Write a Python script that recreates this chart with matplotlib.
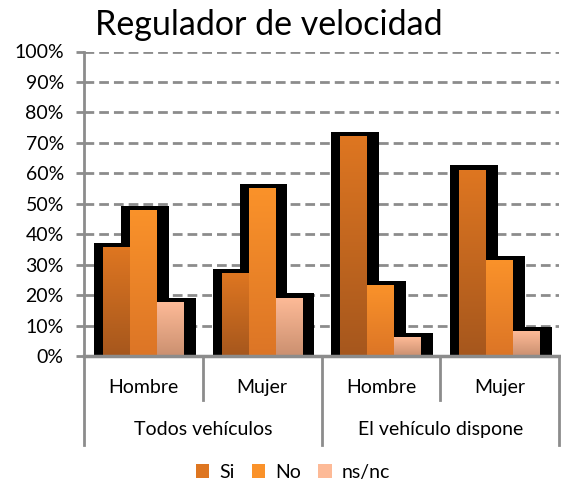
import numpy as np
import matplotlib
matplotlib.use('Agg')
import matplotlib.pyplot as plt
from matplotlib.colors import LinearSegmentedColormap
from matplotlib.patches import Patch
import matplotlib.transforms as mtransforms

plt.rcParams['font.family'] = ['Lato', 'DejaVu Sans']

# Data
groups = ['Todos vehículos', 'El vehículo dispone']
sexes = ['Hombre', 'Mujer', 'Hombre', 'Mujer']
series = ['Si', 'No', 'ns/nc']
si = [35.6, 27, 72, 61]
no = [47.7, 55, 23, 31.3]
nsnc = [17.5, 19, 6, 8]
yticks = [0, 10, 20, 30, 40, 50, 60, 70, 80, 90, 100]

# colours (top, bottom) per series
colors = [('#DE7621', '#A6571D'),
          ('#FA922A', '#DC7526'),
          ('#FDBA97', '#CB9070')]

fig = plt.figure(figsize=(5.61, 4.83), dpi=100)
ax = fig.add_axes([84 / 561, (483 - 356) / 483, 475 / 561, 304.5 / 483])

values = [si, no, nsnc]
w = 0.227
x = np.arange(len(sexes))

# shadows
for i, vals in enumerate(values):
    for j, v in enumerate(vals):
        x0 = x[j] + (i - 1.5) * w
        ax.bar(x0 - 0.076, v + 1.6, width=w + 0.176, align='edge',
               color='black', zorder=2, linewidth=0)

# gradient bars
for i, vals in enumerate(values):
    cmap = LinearSegmentedColormap.from_list('c%d' % i, [colors[i][1], colors[i][0]])
    grad = np.linspace(0, 1, 100).reshape(-1, 1)
    for j, v in enumerate(vals):
        x0 = x[j] + (i - 1.5) * w
        ax.imshow(grad, extent=[x0, x0 + w, 0, v], origin='lower', cmap=cmap,
                  aspect='auto', zorder=3, interpolation='bilinear')
ax.set_xlim(-0.5, len(sexes) - 0.5)
ax.set_ylim(0, 100)

# grid
for t in yticks[1:]:
    ax.axhline(t, color='#8C8C8C', lw=2, ls=(0, (3.5, 1.8)), zorder=1)

ax.set_yticks(yticks)
ax.set_yticklabels(['%d%%' % t for t in yticks], fontsize=14)
ax.tick_params(axis='y', direction='out', length=5.5, width=2, color='#8C8C8C', pad=9)
ax.set_xticks([])
for s in ['top', 'right']:
    ax.spines[s].set_visible(False)
ax.spines['left'].set_color('#8C8C8C')
ax.spines['left'].set_linewidth(2)
ax.spines['bottom'].set_color('#8C8C8C')
ax.spines['bottom'].set_linewidth(2.5)
ax.spines['bottom'].set_zorder(5)

# multi-level category axis
trans = mtransforms.blended_transform_factory(ax.transData, ax.transAxes)
for k, xb in enumerate(np.arange(len(sexes) + 1) - 0.5):
    bottom = -0.292 if k % 2 == 0 else -0.1445
    ax.plot([xb, xb], [0, bottom], transform=trans, color='#8C8C8C', lw=2,
            clip_on=False, zorder=1)
for j, s in enumerate(sexes):
    ax.text(x[j], -0.102, s, transform=trans, ha='center', va='center', fontsize=14)
for g, name in enumerate(groups):
    ax.text(2 * g + 0.5, -0.243, name, transform=trans, ha='center', va='center',
            fontsize=14)

fig.text(0.48, 0.948, 'Regulador de velocidad', ha='center', va='center', fontsize=24.5)

handles = [Patch(facecolor=colors[i][0], edgecolor='none') for i in range(3)]
fig.legend(handles, series, loc='center', bbox_to_anchor=(0.522, 0.022), ncol=3,
           frameon=False, fontsize=14, handlelength=0.7, handleheight=0.7,
           handletextpad=0.5, columnspacing=0.9)

fig.savefig('out.png', dpi=100)
